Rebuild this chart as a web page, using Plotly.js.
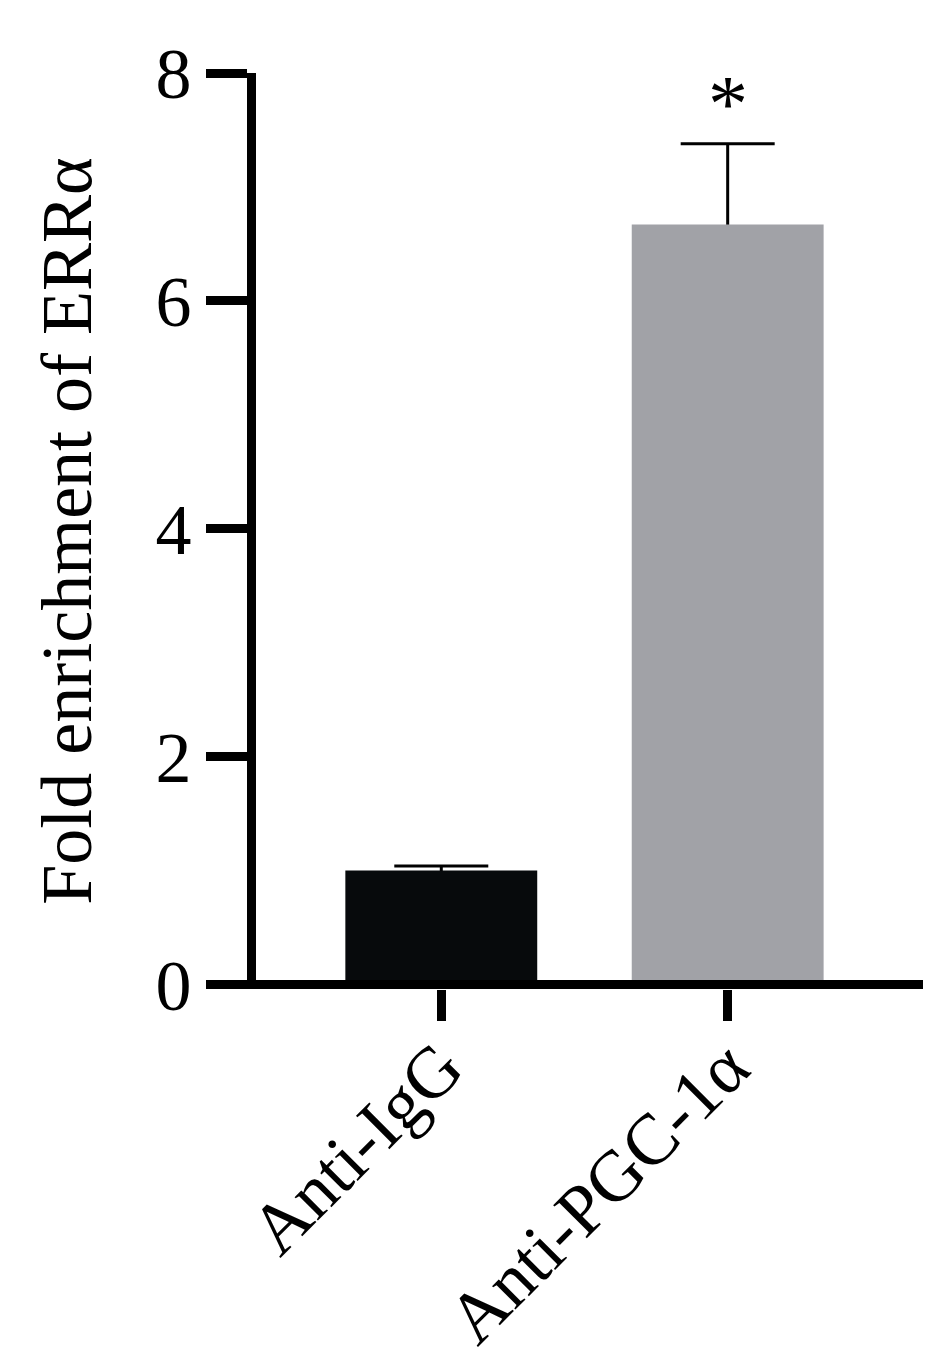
<!DOCTYPE html>
<html>
<head>
<meta charset="utf-8">
<script src="https://cdn.plot.ly/plotly-3.0.1.min.js"></script>
<style>html,body{margin:0;padding:0;background:#fff;}#chart{width:946px;height:1371px;}</style>
</head>
<body>
<div id="chart"></div>
<script>
const categories = ["Anti-IgG", "Anti-PGC-1α"];
const means = [1.0, 6.67];
const sems = [0.04, 0.71];
const barColors = ["#070a0c", "#a1a2a7"];
const significance = ["", "*"];
const yTicks = [0, 2, 4, 6, 8];
const yTitle = "Fold enrichment of ERRα";

const serif = "Liberation Serif";

// error bars drawn first (under the bars), so only the upper half shows
const errTrace = {
  type: "bar",
  x: categories,
  y: means,
  width: 0.67,
  marker: {color: "rgba(0,0,0,0)", line: {width: 0}},
  error_y: {
    type: "data",
    symmetric: true,
    array: sems,
    color: "#000",
    thickness: 3,
    width: 47
  },
  hoverinfo: "none"
};

const barTrace = {
  type: "bar",
  x: categories,
  y: means,
  width: 0.67,
  marker: {color: barColors, line: {width: 0}},
  hoverinfo: "none"
};

const annotations = categories.map((c, i) => ({
  x: c,
  y: means[i] + sems[i],
  xref: "x",
  yref: "y",
  text: significance[i],
  showarrow: false,
  yanchor: "bottom",
  yshift: -6,
  font: {family: serif, size: 80, color: "#000"}
})).filter(a => a.text);

const layout = {
  width: 946,
  height: 1371,
  margin: {l: 255.5, r: 23, t: 73, b: 381.5},
  paper_bgcolor: "#fff",
  plot_bgcolor: "#fff",
  showlegend: false,
  barmode: "overlay",
  xaxis: {
    type: "category",
    range: [-0.647, 1.682],
    showline: false,
    showgrid: false,
    zeroline: false,
    ticks: "outside",
    ticklen: 31,
    tickwidth: 9,
    tickcolor: "#000",
    tickangle: -45,
    ticklabelstandoff: -25,
    tickfont: {family: serif, size: 72, color: "#000"}
  },
  yaxis: {
    range: [-0.04, 8],
    tickvals: yTicks,
    ticktext: yTicks.map(String),
    showline: true,
    linewidth: 9,
    linecolor: "#000",
    showgrid: false,
    zeroline: true,
    zerolinewidth: 9,
    zerolinecolor: "#000",
    zerolinelayer: "above traces",
    ticks: "outside",
    ticklen: 41,
    tickwidth: 9,
    tickcolor: "#000",
    tickfont: {family: serif, size: 72, color: "#000"},
    title: {text: yTitle, font: {family: serif, size: 72, color: "#000"}, standoff: 44}
  },
  annotations: annotations
};

Plotly.newPlot("chart", [errTrace, barTrace], layout, {staticPlot: true, displayModeBar: false});
</script>
</body>
</html>
